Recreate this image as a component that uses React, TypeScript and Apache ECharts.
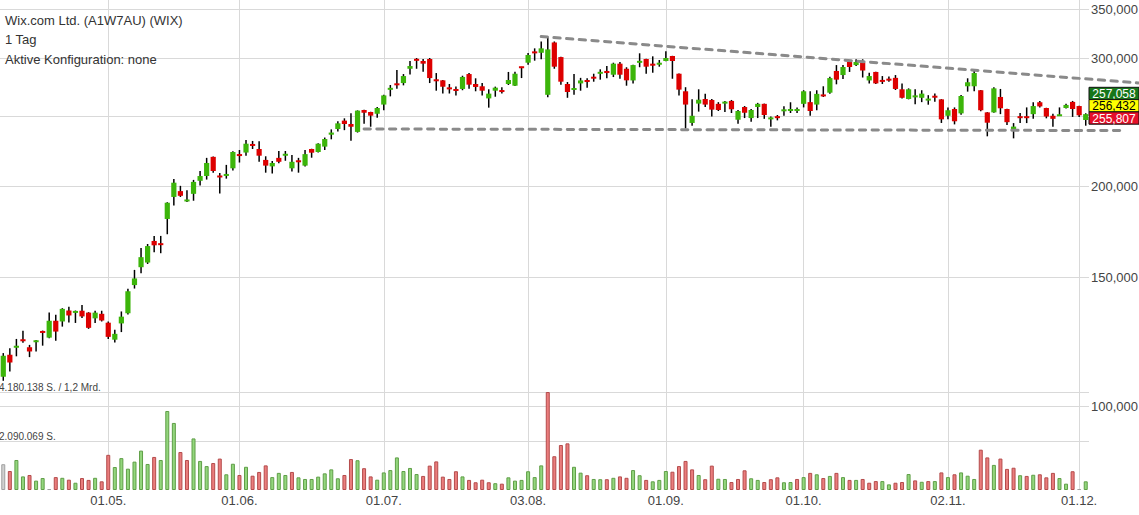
import React, { useEffect, useRef } from "react";
import * as echarts from "echarts";

// ---------- text ----------
const TITLE_LINES = ["Wix.com Ltd. (A1W7AU) (WIX)", "1 Tag", "Aktive Konfiguration: none"];

// ---------- categories: US trading days ----------
const FIRST_DAY = "2020-04-08";
const LAST_DAY = "2020-12-02";
const HOLIDAYS = ["2020-04-10", "2020-05-25", "2020-07-03", "2020-09-07", "2020-11-26"];

// ---------- prices (USD) ----------
const open = [
  109.7, 117.6, 120.3, 123.2, 120.4, 122.4, 126.5, 124.1, 130.9, 130.6,
  135.2, 134.4, 135.1, 134.3, 131.9, 133.8, 130.1, 123.3, 129.8, 134.0,
  146.5, 155.0, 157.3, 168.4, 166.9, 180.5, 193.5, 197.1, 191.0, 195.4,
  203.6, 206.7, 219.6, 206.6, 207.2, 211.8, 221.1, 222.6, 228.2, 225.1,
  217.5, 213.1, 218.9, 220.8, 211.8, 216.8, 213.6, 225.1, 223.0, 226.8,
  235.5, 239.8, 246.2, 243.6, 237.6, 254.6, 253.0, 251.6, 259.0, 271.5,
  276.4, 277.2, 290.0, 299.1, 297.2, 299.1, 279.9, 279.6, 272.8, 271.8,
  272.1, 285.2, 276.4, 274.4, 264.1, 270.6, 270.5, 276.4, 274.9, 291.6,
  295.6, 305.6, 305.0, 267.1, 315.1, 300.9, 276.4, 271.8, 276.9, 279.9,
  282.2, 285.5, 288.0, 284.6, 294.7, 290.0, 279.5, 295.6, 299.1, 294.7,
  293.7, 297.2, 301.9, 285.5, 270.1, 244.4, 259.8, 263.6, 262.8, 259.6,
  260.4, 262.0, 246.9, 257.0, 248.2, 257.0, 259.6, 247.8, 249.1, 254.1,
  253.8, 253.8, 259.6, 261.0, 259.0, 266.8, 268.9, 288.0, 284.3, 296.3,
  293.4, 296.0, 279.5, 287.1, 279.3, 280.4, 281.8, 271.8, 263.6, 265.6,
  264.6, 262.9, 265.7, 263.3, 250.0, 255.4, 251.9, 274.4, 274.4, 271.0,
  252.7, 252.7, 265.3, 255.4, 239.1, 249.1, 249.1, 251.3, 260.9, 256.2,
  250.0, 250.2, 256.2, 261.2, 257.8, 246.7,
];
const high = [
  118.2, 120.0, 123.6, 126.8, 121.3, 123.2, 126.9, 134.4, 133.4, 136.2,
  136.8, 135.2, 137.6, 134.5, 135.1, 135.1, 130.6, 127.2, 134.8, 144.8,
  153.7, 164.7, 166.8, 171.1, 171.1, 190.3, 204.8, 200.4, 197.6, 204.2,
  210.0, 218.9, 219.8, 208.7, 214.1, 223.6, 224.4, 231.6, 230.9, 230.7,
  220.0, 216.8, 223.7, 223.7, 220.9, 218.9, 224.4, 225.3, 229.3, 233.4,
  239.5, 245.8, 248.0, 252.0, 254.3, 254.8, 253.2, 257.0, 267.2, 275.5,
  288.8, 285.2, 297.2, 300.0, 299.1, 300.0, 286.1, 279.8, 276.4, 274.1,
  283.7, 286.1, 281.4, 277.2, 271.8, 274.1, 273.6, 287.1, 287.3, 291.8,
  304.8, 309.3, 316.1, 320.0, 316.1, 301.3, 278.1, 285.2, 281.8, 281.5,
  285.5, 289.5, 292.5, 295.6, 296.3, 291.4, 293.6, 304.5, 299.3, 301.6,
  298.1, 306.4, 302.1, 285.7, 273.6, 263.3, 271.8, 268.1, 263.6, 261.0,
  262.0, 262.8, 254.6, 257.8, 255.4, 260.4, 259.8, 249.4, 250.6, 257.6,
  260.9, 256.6, 271.0, 270.1, 271.0, 274.4, 282.8, 293.4, 293.4, 298.1,
  298.8, 298.8, 286.4, 287.3, 283.4, 282.9, 284.3, 276.9, 272.6, 271.8,
  271.0, 266.8, 268.2, 263.5, 256.7, 256.7, 266.9, 281.4, 288.8, 271.2,
  252.9, 273.6, 272.1, 255.6, 244.3, 252.2, 256.7, 261.0, 262.0, 256.4,
  251.7, 256.7, 259.6, 262.0, 258.0, 252.0,
];
const low = [
  108.3, 111.5, 117.0, 122.1, 116.7, 118.8, 121.0, 123.9, 122.9, 128.5,
  130.2, 130.0, 132.0, 127.6, 130.0, 130.6, 123.6, 122.2, 126.3, 133.5,
  144.9, 152.1, 156.6, 162.5, 162.0, 172.0, 188.3, 193.5, 190.4, 191.2,
  200.6, 204.4, 208.9, 195.6, 205.0, 210.3, 215.7, 220.4, 225.1, 216.3,
  208.9, 208.3, 215.2, 216.9, 209.6, 208.9, 213.0, 219.0, 222.6, 224.4,
  232.1, 237.9, 238.9, 231.1, 237.1, 243.8, 241.5, 248.5, 254.4, 265.8,
  272.3, 275.2, 284.9, 290.0, 287.3, 277.2, 270.6, 268.2, 268.2, 266.6,
  271.0, 272.3, 270.1, 266.6, 256.5, 265.5, 268.2, 275.5, 274.7, 281.6,
  293.7, 297.5, 298.8, 265.0, 290.0, 275.8, 264.6, 267.1, 270.6, 273.2,
  278.4, 280.2, 281.4, 282.5, 281.0, 274.9, 276.9, 291.4, 285.5, 286.4,
  291.9, 297.0, 281.0, 266.6, 240.1, 242.3, 253.3, 257.0, 249.4, 253.8,
  253.0, 252.2, 243.8, 248.2, 245.4, 248.2, 247.6, 241.5, 246.4, 250.0,
  252.2, 252.2, 256.7, 250.0, 254.4, 265.3, 268.1, 276.1, 280.8, 287.1,
  292.5, 282.1, 276.9, 276.4, 276.4, 278.4, 271.2, 264.1, 263.3, 259.3,
  261.0, 258.9, 261.3, 244.4, 247.2, 243.3, 250.8, 269.8, 270.1, 253.6,
  234.3, 252.4, 251.3, 242.8, 232.8, 244.3, 244.3, 247.6, 256.7, 248.0,
  241.5, 249.9, 255.8, 249.1, 249.1, 242.3,
];
const close = [
  117.2, 114.7, 120.9, 122.9, 118.8, 123.0, 126.2, 130.9, 126.5, 135.9,
  133.1, 134.8, 132.7, 128.0, 134.3, 131.0, 124.4, 125.6, 132.6, 143.7,
  149.6, 160.0, 165.7, 166.1, 166.5, 190.0, 202.4, 194.2, 191.7, 202.9,
  206.7, 215.4, 210.0, 206.2, 207.6, 223.0, 220.6, 228.9, 227.8, 220.4,
  213.6, 215.4, 216.2, 221.3, 216.2, 216.3, 221.5, 222.5, 228.9, 232.3,
  237.1, 244.1, 243.6, 241.5, 254.1, 252.4, 250.1, 256.2, 266.6, 272.9,
  275.8, 283.4, 292.5, 297.5, 294.7, 281.6, 279.4, 274.0, 272.4, 270.6,
  282.6, 275.8, 273.8, 270.6, 268.1, 273.2, 270.1, 279.9, 285.5, 291.2,
  302.9, 305.2, 309.3, 308.3, 291.9, 278.4, 269.5, 272.3, 279.5, 278.1,
  281.7, 287.1, 286.1, 294.7, 284.6, 279.6, 293.4, 297.2, 291.9, 292.8,
  295.6, 300.0, 297.2, 271.5, 259.0, 250.0, 263.0, 259.0, 254.9, 254.6,
  260.8, 255.2, 253.8, 252.4, 254.6, 259.6, 250.6, 248.1, 248.7, 254.6,
  255.4, 255.4, 270.1, 253.8, 267.9, 266.4, 281.6, 280.2, 291.6, 291.6,
  296.3, 288.4, 283.4, 276.9, 278.9, 280.0, 272.1, 264.6, 271.8, 266.0,
  268.1, 263.3, 265.3, 247.2, 254.4, 245.7, 266.1, 277.9, 286.1, 254.4,
  244.6, 272.6, 256.0, 245.0, 241.6, 248.7, 248.7, 257.8, 257.5, 249.4,
  247.6, 250.6, 258.7, 255.4, 250.4, 251.3,
];

// ---------- volume (shares) and its colour (n = neutral, u = up, d = down) ----------
const volume = [
  1100000, 810000, 1280000, 580000, 640000, 400000, 510000, 40000, 550000, 520000,
  440000, 310000, 510000, 430000, 520000, 370000, 1500000, 980000, 1360000, 910000,
  1210000, 1680000, 1110000, 1410000, 1280000, 3370000, 2860000, 1620000, 1280000, 2200000,
  1240000, 1020000, 1150000, 1340000, 670000, 1120000, 640000, 990000, 610000, 770000,
  1050000, 550000, 730000, 640000, 770000, 540000, 470000, 470000, 570000, 710000,
  880000, 500000, 640000, 1320000, 1270000, 930000, 580000, 440000, 750000, 850000,
  1390000, 810000, 940000, 680000, 600000, 1040000, 1220000, 570000, 470000, 800000,
  580000, 430000, 330000, 440000, 330000, 290000, 270000, 540000, 400000, 430000,
  800000, 550000, 1050000, 4180138, 1440000, 1920000, 1990000, 990000, 740000, 630000,
  470000, 460000, 460000, 520000, 580000, 520000, 850000, 630000, 430000, 370000,
  430000, 810000, 780000, 1020000, 1240000, 880000, 640000, 460000, 1040000, 480000,
  470000, 340000, 470000, 840000, 500000, 430000, 340000, 460000, 540000, 330000,
  340000, 470000, 550000, 730000, 670000, 510000, 600000, 730000, 550000, 430000,
  430000, 470000, 310000, 380000, 380000, 240000, 310000, 340000, 680000, 410000,
  350000, 380000, 380000, 750000, 550000, 670000, 750000, 610000, 470000, 1720000,
  1390000, 1070000, 1340000, 900000, 950000, 630000, 600000, 650000, 670000, 540000,
  730000, 510000, 270000, 800000, 40000, 370000,
];
const volumeDir = [
  "nduuduundu", "duddudduuu", "uuuduuuddu", "uudduududd", "duuuduuuuu",
  "uuddudduuu", "uuuudddddd", "udddduduuu", "uuudddduud", "uududduudu",
  "uudddduddu", "uddduudddu", "ududududud", "uddduuddud", "udududuuud",
  "dudddududd", "duudnu",
].join("");

// ---------- axes / annotations ----------
const PRICE_MIN = 76.72;
const PRICE_MAX = 360.3;
const PRICE_TICKS = [100, 150, 200, 250, 300, 350];
const PRICE_TICKS_LABELLED = [100, 150, 200, 300, 350];
const VOLUME_MAX = 4180138;
const VOLUME_TICKS = [2090069, 4180138];
const VOLUME_TURNOVER = "1,2 Mrd.";
const QUOTES = [257.058, 256.432, 255.807];
const UPPER_TREND = [[82, 321.0], [173, 277.3]];
const LOWER_TREND = [[55, 239.8], [171, 238.6]];

const CHART_W = 1139;
const CHART_H = 515;
const AXIS_GUTTER = 50;
const FONT = "'Liberation Sans', Arial, Helvetica, sans-serif";
const UP = "#3cb50a";
const DOWN = "#dd0000";

function tradingDays(): string[] {
  const out: string[] = [];
  const d = new Date(FIRST_DAY + "T12:00:00Z");
  const end = new Date(LAST_DAY + "T12:00:00Z");
  while (d <= end) {
    const wd = d.getUTCDay();
    const s = d.toISOString().slice(0, 10);
    if (wd !== 0 && wd !== 6 && !HOLIDAYS.includes(s)) out.push(s);
    d.setUTCDate(d.getUTCDate() + 1);
  }
  return out;
}

const fmtPrice = (v: number) => v.toFixed(3).replace(".", ",");
const fmtShares = (v: number) =>
  Math.round(v).toString().replace(/\B(?=(\d{3})+(?!\d))/g, ".");

export default function App() {
  const ref = useRef<HTMLDivElement>(null);

  useEffect(() => {
    if (!ref.current) return;
    const chart = echarts.init(ref.current, undefined, { renderer: "svg" });
    const dates = tradingDays();
    const n = dates.length;
    const monthStart = dates.map((d, i) => i > 0 && d.slice(5, 7) !== dates[i - 1].slice(5, 7));
    const monthStartDates = dates.filter((_, i) => monthStart[i]);
    const fmtDate = (d: string) => `${d.slice(8, 10)}.${d.slice(5, 7)}.`;

    // overlay grid spanning the full width, scaled so bar index i sits at the same x as the category band
    const band = (CHART_W - AXIS_GUTTER) / n;
    const overlayMax = -0.5 + CHART_W / band;

    const candleData = dates.map((_, i) => [i, open[i], close[i], low[i], high[i]]);
    const volData = dates.map((_, i) => {
      const dir = volumeDir[i] || "u";
      const fill = dir === "u" ? "#93d67d" : dir === "d" ? "#ea7d7d" : "#d0d0d0";
      const border = dir === "u" ? "#5f9e47" : dir === "d" ? "#b44b4b" : "#a0a0a0";
      return { value: volume[i], itemStyle: { color: fill, borderColor: border, borderWidth: 1 } };
    });

    const trendStyle = { color: "#8a8a8a", width: 3, type: [6.3, 6.4] as any, cap: "round" as any };

    chart.setOption({
      animation: false,
      backgroundColor: "#ffffff",
      grid: [
        { left: 0, right: AXIS_GUTTER, top: 0, bottom: 25 },
        { left: 0, right: AXIS_GUTTER, top: 392, bottom: 25 },
        { left: 0, right: 0, top: 0, bottom: 25 },
      ],
      xAxis: [
        {
          type: "category",
          gridIndex: 0,
          data: dates,
          boundaryGap: true,
          axisLine: { show: false },
          axisTick: { show: false },
          splitLine: { show: false },
          axisLabel: {
            interval: (i: number) => monthStart[i],
            formatter: (v: string) => fmtDate(v),
            fontSize: 13,
            fontFamily: FONT,
            color: "#444",
            margin: 4,
          },
        },
        { type: "category", gridIndex: 1, data: dates, boundaryGap: true, show: false },
        { type: "value", gridIndex: 2, min: -0.5, max: overlayMax, show: false, splitLine: { show: false } },
      ],
      yAxis: [
        { type: "log", gridIndex: 0, min: PRICE_MIN, max: PRICE_MAX, show: false, splitLine: { show: false } },
        { type: "value", gridIndex: 1, min: 0, max: VOLUME_MAX, show: false, splitLine: { show: false } },
        { type: "log", gridIndex: 2, min: PRICE_MIN, max: PRICE_MAX, show: false, splitLine: { show: false } },
      ],
      series: [
        {
          type: "bar",
          xAxisIndex: 1,
          yAxisIndex: 1,
          data: volData,
          barWidth: 4,
          z: 2,
          silent: true,
          markLine: {
            silent: true,
            z: 1,
            precision: 0,
            symbol: ["none", "none"],
            lineStyle: { color: "#d9d9d9", width: 1, type: "solid" },
            label: {
              show: true,
              position: "insideStartTop",
              distance: [-1, 0],
              fontSize: 10,
              fontFamily: FONT,
              color: "#444",
              formatter: (p: any) =>
                p.dataIndex === VOLUME_TICKS.length - 1
                  ? `${fmtShares(VOLUME_TICKS[p.dataIndex])} S. / ${VOLUME_TURNOVER}`
                  : `${fmtShares(VOLUME_TICKS[p.dataIndex])} S.`,
            },
            data: VOLUME_TICKS.map((v) => ({ yAxis: v })),
          },
        },
        {
          type: "custom",
          xAxisIndex: 0,
          yAxisIndex: 0,
          z: 3,
          silent: true,
          data: candleData,
          encode: { x: 0, y: [1, 2, 3, 4] },
          renderItem: (_params: any, api: any) => {
            const i = api.value(0);
            const o = api.value(1);
            const c = api.value(2);
            const l = api.value(3);
            const h = api.value(4);
            const pO = api.coord([i, o]);
            const pC = api.coord([i, c]);
            const pL = api.coord([i, l]);
            const pH = api.coord([i, h]);
            const x = pO[0];
            let y0 = Math.min(pO[1], pC[1]);
            let hh = Math.abs(pO[1] - pC[1]);
            if (hh < 2) {
              y0 = (pO[1] + pC[1]) / 2 - 1;
              hh = 2;
            }
            return {
              type: "group",
              children: [
                { type: "line", shape: { x1: x, y1: pH[1], x2: x, y2: pL[1] }, style: { stroke: "#000", lineWidth: 1.5 } },
                { type: "rect", shape: { x: x - 2.6, y: y0, width: 5.2, height: hh }, style: { fill: c >= o ? UP : DOWN } },
              ],
            };
          },
          markLine: {
            silent: true,
            z: 1,
            precision: 3,
            symbol: ["none", "none"],
            lineStyle: { color: "#d9d9d9", width: 1, type: "solid" },
            label: {
              show: true,
              position: "end",
              distance: 2,
              fontSize: 13,
              fontFamily: FONT,
              color: "#444",
              formatter: (p: any) => fmtPrice(p.value),
            },
            data: [
              ...PRICE_TICKS.map((v) => ({ yAxis: v, label: { show: PRICE_TICKS_LABELLED.includes(v) } })),
              ...monthStartDates.map((d) => ({ xAxis: d, label: { show: false } })),
            ],
          },
        },
        {
          type: "line",
          xAxisIndex: 2,
          yAxisIndex: 2,
          data: UPPER_TREND,
          symbol: "none",
          clip: false,
          silent: true,
          z: 10,
          lineStyle: trendStyle,
        },
        {
          type: "line",
          xAxisIndex: 2,
          yAxisIndex: 2,
          data: LOWER_TREND,
          symbol: "none",
          clip: false,
          silent: true,
          z: 10,
          lineStyle: trendStyle,
        },
      ],
      graphic: [
        ...TITLE_LINES.map((t, k) => ({
          type: "text",
          x: 5,
          y: 20 + k * 19.5,
          z: 20,
          style: { text: t, fontSize: 13, fontFamily: FONT, fill: "#333", verticalAlign: "middle" },
        })),
        ...QUOTES.map((q, k) => {
          const bg = k === 0 ? "#17761a" : k === 1 ? "#ffff00" : "#e5102a";
          const fg = k === 1 ? "#000" : "#fff";
          return {
            type: "group",
            x: CHART_W - AXIS_GUTTER,
            y: 87.3 + k * 12.3,
            z: 20,
            children: [
              { type: "rect", shape: { x: 0, y: 0, width: 50, height: 12.3 }, style: { fill: bg, stroke: "#111", lineWidth: 1 } },
              {
                type: "text",
                x: 25,
                y: 6.6,
                style: {
                  text: fmtPrice(q),
                  fontSize: 12,
                  lineHeight: 10,
                  fontFamily: FONT,
                  fill: fg,
                  align: "center",
                  verticalAlign: "middle",
                },
              },
            ],
          };
        }),
      ],
    });

    return () => chart.dispose();
  }, []);

  return (
    <div
      ref={ref}
      style={{ position: "absolute", left: 0, top: 0, width: CHART_W, height: CHART_H, background: "#fff" }}
    />
  );
}
